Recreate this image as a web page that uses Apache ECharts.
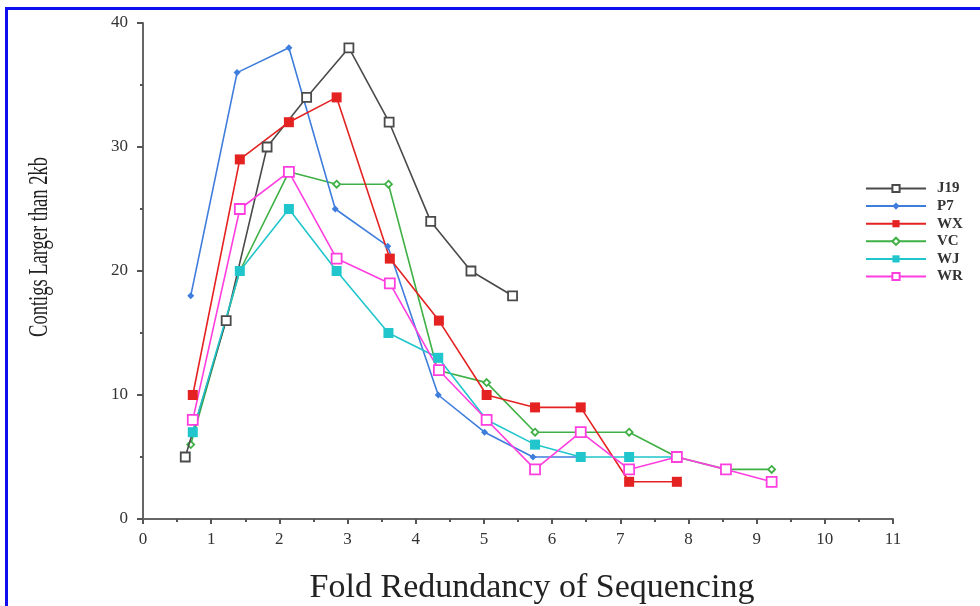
<!DOCTYPE html>
<html>
<head>
<meta charset="utf-8">
<script src="https://cdn.jsdelivr.net/npm/echarts@6/dist/echarts.min.js"></script>
<style>
  html, body { margin: 0; padding: 0; background: #fff; }
  #chart { width: 980px; height: 606px; }
  #frame { position: absolute; left: 5px; top: 7px; right: -10px; bottom: -10px;
           border-top: 3px solid #1010ee; border-left: 3px solid #1010ee; pointer-events: none; }
</style>
</head>
<body>
<div id="chart"></div>
<div id="frame"></div>
<script>
  // fold redundancy (x) and contig counts (y)
  const j19X = [0.62, 1.22, 1.82, 2.40, 3.02, 3.61, 4.22, 4.81, 5.42]
  const j19Y = [5, 16, 30, 34, 38, 32, 24, 20, 18]
  const p7X = [0.70, 1.38, 2.14, 2.82, 3.59, 4.33, 5.01, 5.72, 6.41]
  const p7Y = [18, 36, 38, 25, 22, 10, 7, 5, 5]
  const wxX = [0.73, 1.42, 2.14, 2.84, 3.62, 4.34, 5.04, 5.75, 6.42, 7.13, 7.83]
  const wxY = [10, 29, 32, 34, 21, 16, 10, 9, 9, 3, 3]
  const vcX = [0.70, 1.42, 2.14, 2.84, 3.60, 4.32, 5.04, 5.75, 7.13, 7.83, 8.55, 9.22]
  const vcY = [6, 20, 28, 27, 27, 12, 11, 7, 7, 5, 4, 4]
  const wjX = [0.73, 1.42, 2.14, 2.84, 3.60, 4.33, 5.04, 5.75, 6.42, 7.13, 7.83]
  const wjY = [7, 20, 25, 20, 15, 13, 8, 6, 5, 5, 5]
  const wrX = [0.73, 1.42, 2.14, 2.84, 3.62, 4.34, 5.04, 5.75, 6.42, 7.13, 7.83, 8.55, 9.22]
  const wrY = [8, 25, 28, 21, 19, 12, 8, 4, 7, 4, 5, 4, 3]

  const seriesNames = ['J19', 'P7', 'WX', 'VC', 'WJ', 'WR']
  const serif = '"Liberation Serif", "DejaVu Serif", serif'

  function pairs(xs, ys) {
    return xs.map((x, i) => [x, ys[i]])
  }

  function makeSeries(name, xs, ys, color, symbol, size, hollow, z) {
    return {
      name: name,
      type: 'line',
      data: pairs(xs, ys),
      symbol: symbol,
      symbolSize: size,
      showAllSymbol: true,
      lineStyle: { color: color, width: 1.6 },
      itemStyle: hollow
        ? { color: '#fff', borderColor: color, borderWidth: 1.8 }
        : { color: color, borderColor: color, borderWidth: 0 },
      emphasis: { disabled: true },
      z: z
    }
  }

  const chart = echarts.init(document.getElementById('chart'), null, { renderer: 'canvas' })
  chart.setOption({
    backgroundColor: '#fff',
    animation: false,
    textStyle: { fontFamily: serif },
    grid: { left: 143, right: 87, top: 23, bottom: 87 },
    legend: {
      data: seriesNames,
      orient: 'vertical',
      left: 860,
      top: 176,
      itemWidth: 60,
      itemHeight: 9,
      itemGap: 2.6,
      textStyle: { fontFamily: serif, fontSize: 15, color: '#333', fontWeight: 'bold', padding: [0, 0, 0, 6] }
    },
    xAxis: {
      type: 'value',
      min: 0,
      max: 11,
      interval: 1,
      splitLine: { show: false },
      axisLine: { onZero: false, lineStyle: { color: '#666', width: 2 } },
      axisTick: { length: 5, lineStyle: { color: '#555', width: 2 } },
      minorTick: { show: true, splitNumber: 2, length: 3, lineStyle: { color: '#555', width: 2 } },
      axisLabel: { fontFamily: serif, fontSize: 17, color: '#333', margin: 12 }
    },
    yAxis: {
      type: 'value',
      min: 0,
      max: 40,
      interval: 10,
      splitLine: { show: false },
      axisLine: { show: true, lineStyle: { color: '#666', width: 2 } },
      axisTick: { show: true, length: 6, lineStyle: { color: '#555', width: 2 } },
      minorTick: { show: true, splitNumber: 2, length: 3, lineStyle: { color: '#555', width: 2 } },
      axisLabel: { fontFamily: serif, fontSize: 17, color: '#333', margin: 15 }
    },
    graphic: [
      {
        type: 'text',
        x: 40,
        y: 247,
        rotation: Math.PI / 2,
        scaleX: 0.66,
        style: {
          text: 'Contigs Larger than 2kb',
          fontFamily: serif,
          fontSize: 28,
          fill: '#222',
          align: 'center',
          verticalAlign: 'middle'
        }
      },
      {
        type: 'text',
        x: 532,
        y: 588,
        style: {
          text: 'Fold Redundancy of Sequencing',
          fontFamily: serif,
          fontSize: 34,
          fill: '#222',
          align: 'center',
          verticalAlign: 'middle'
        }
      }
    ],
    series: [
      makeSeries('J19', j19X, j19Y, '#4a4a4a', 'rect', 9, true, 3),
      makeSeries('P7', p7X, p7Y, '#3f7ddc', 'diamond', 7, false, 3),
      makeSeries('WX', wxX, wxY, '#e52222', 'rect', 10, false, 3),
      makeSeries('VC', vcX, vcY, '#3fb045', 'diamond', 7, true, 2),
      makeSeries('WJ', wjX, wjY, '#20c6cc', 'rect', 10, false, 3),
      makeSeries('WR', wrX, wrY, '#ff3ee0', 'rect', 10, true, 3)
    ]
  })
</script>
</body>
</html>
